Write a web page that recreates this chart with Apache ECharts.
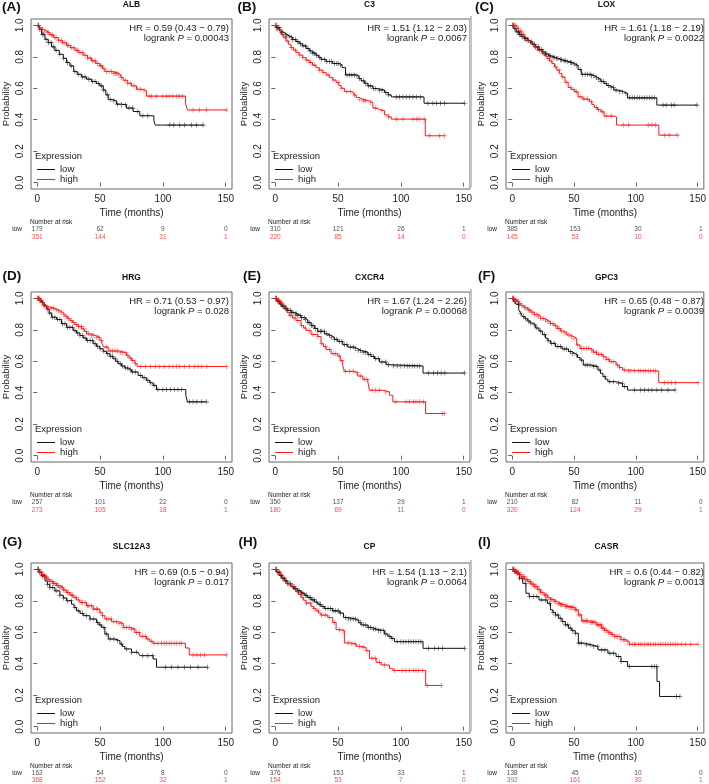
<!DOCTYPE html>
<html><head><meta charset="utf-8">
<script src="https://cdn.jsdelivr.net/npm/echarts@6/dist/echarts.min.js"></script>
<style>html,body{margin:0;padding:0;background:#fff}#c{width:709px;height:784px}</style>
</head><body><div id="c"></div>
<script>
// ---------------- DATA ----------------
const riskTimes = [0, 50, 100, 150];
const xTicks = [0, 50, 100, 150];
const yTicks = [0, 0.2, 0.4, 0.6, 0.8, 1.0];

// (A) ALB
const ALB_low = [[0,1],[1.6,0.975],[3.4,0.943],[6.1,0.911],[8.7,0.89],[11.4,0.863],[14,0.841],[17.5,0.816],[20.7,0.791],[23.3,0.763],[26,0.742],[29,0.706],[31.8,0.689],[35.3,0.672],[39.2,0.658],[43.2,0.643],[47.2,0.63],[49.8,0.615],[52.5,0.588],[54.6,0.558],[56.5,0.529],[59.9,0.52],[63,0.499],[67,0.495],[71,0.474],[76.3,0.452],[81.6,0.425],[92.8,0.393],[94,0.366],[132,0.366]];
const ALB_high = [[0,1],[1.5,0.985],[3,0.975],[4.8,0.964],[7,0.953],[10,0.939],[13,0.922],[16.7,0.905],[20,0.889],[23.3,0.873],[26.5,0.857],[30,0.841],[33,0.826],[36.6,0.81],[40,0.792],[43.2,0.774],[46.5,0.758],[49.8,0.742],[52,0.724],[53.8,0.706],[60.4,0.696],[64.4,0.685],[66.5,0.668],[68.4,0.651],[72,0.632],[75,0.615],[79,0.594],[84.3,0.584],[86.9,0.55],[118,0.505],[119.5,0.462],[150.5,0.462]];
const ALB_lowCens = [1,2,4,5,7,9,11,13,15,18,21,24,27,30,33,36,38,41,44,46,49,51,53,56,58,61,64,67,70,73,76,80,84,88,105.5,108.7,113.4,117.4,122.7,126.7,132];
const ALB_highCens = [0.5,1,2,3,4,6,8,9,11,12,14,15,17,19,20,22,24,25,27,29,31,32,34,36,38,40,42,44,46,48,50,51,53,55,57,59,61,62,63,65,67,70,72,74,77,80,82,85,89,91,95,100,103,105.5,108,111,113,115.5,124,129,134.6,150.5];
const ALB_riskLow = [179, 62, 9, 0];
const ALB_riskHigh = [351, 144, 31, 1];

// (B) C3
const C3_low = [[0,1],[1,0.985],[3.2,0.964],[5,0.953],[7.2,0.943],[9,0.932],[11.2,0.922],[14,0.909],[16.5,0.896],[19,0.883],[21.8,0.869],[24.5,0.853],[27.1,0.837],[29.8,0.823],[32.4,0.81],[34.5,0.797],[36.4,0.784],[40.4,0.77],[45.7,0.757],[51,0.748],[53.2,0.731],[55.9,0.685],[64.4,0.679],[66.5,0.662],[68.4,0.647],[71,0.632],[73.7,0.615],[77.7,0.598],[81.6,0.588],[87,0.573],[90,0.558],[92.3,0.545],[118.4,0.505],[150.8,0.505]];
const C3_high = [[0,1],[1.9,0.975],[4.5,0.943],[6.5,0.921],[8.5,0.9],[10.5,0.879],[12.5,0.858],[14.5,0.842],[16.5,0.827],[19,0.811],[21.8,0.795],[24.5,0.779],[27.1,0.763],[29.7,0.747],[32.4,0.731],[35,0.715],[37.8,0.7],[40.5,0.684],[43.1,0.668],[45.8,0.652],[48.4,0.636],[50.5,0.618],[52.4,0.6],[55,0.579],[60.4,0.573],[62.5,0.557],[64.4,0.541],[67,0.53],[69.7,0.52],[75,0.51],[77.7,0.474],[80.5,0.465],[83,0.457],[87,0.431],[90,0.418],[92.3,0.404],[119.4,0.298],[134.8,0.298]];
const C3_lowCens = [0.5,1,2,3,5,6,8,9,11,13,14,16,18,20,22,24,26,28,30,31,33,35,37,39,41,43,45,47,49,50,52,57,59,61,63,65,67,70,72,74,76,78,80,83,85,88,90,96.3,98.9,101.6,104.3,106.9,109.6,112.2,115.4,121.5,125.5,128.2,131.4,134.8,150.8];
const C3_highCens = [0.5,1,2,4,6,8,10,13,16,19,22,25,28,31,35,38,42,46,50,53,57,60,63,67,70,72,76,80,85,90,96.3,101.6,109.6,112.2,114.4,118.5,122.9,130.9,134.8];
const C3_riskLow = [310, 121, 26, 1];
const C3_riskHigh = [220, 85, 14, 0];

// (C) LOX
const LOX_low = [[0,1],[1.5,0.98],[3.2,0.958],[5.8,0.941],[7.8,0.928],[9.8,0.915],[11.8,0.905],[13.7,0.894],[16.3,0.879],[19,0.863],[21.6,0.847],[24.3,0.831],[26.9,0.818],[29.5,0.805],[32,0.797],[34.8,0.789],[37.5,0.781],[40.1,0.774],[43.5,0.768],[46.7,0.763],[48.5,0.755],[50.6,0.746],[53.3,0.719],[55.9,0.689],[63.8,0.679],[66.5,0.668],[69.1,0.658],[71.7,0.644],[74.3,0.63],[76.5,0.617],[78.3,0.605],[82.3,0.588],[86,0.578],[90.2,0.567],[93.3,0.539],[117,0.493],[149.5,0.493]];
const LOX_high = [[0,1],[3.2,0.994],[4.5,0.98],[5.8,0.964],[7.8,0.943],[9.8,0.922],[12.5,0.903],[15,0.884],[17.5,0.862],[20.3,0.841],[24.3,0.82],[26.2,0.805],[28.2,0.789],[30.2,0.773],[32.2,0.757],[34.2,0.736],[36.1,0.715],[38.1,0.694],[40.1,0.672],[42.7,0.638],[45.3,0.605],[48,0.591],[50.6,0.577],[53.3,0.545],[57.2,0.531],[62.5,0.514],[64.5,0.496],[66.4,0.478],[69,0.464],[71.7,0.45],[74.3,0.423],[82.3,0.418],[84.4,0.366],[118.6,0.302],[133.7,0.302]];
const LOX_lowCens = [0.5,1,2,3,4,5,6,7,8,10,11,12,13,15,16,18,19,21,22,24,25,27,28,30,31,33,34,36,37,39,40,42,43,45,47,48,50,52,55,57,59,61,63,64,66,68,70,72,74,76,78,80,82,84,87,89,92,95,97,99,101,103,105,107,109,111,113,115,122,124.5,129,131,149.5];
const LOX_highCens = [0.5,1,2,3,5,7,9,11,13,16,19,22,25,29,32,35,38,41,44,47,50,52,55,58,61,64,68,70,73,76,80,90,94,110,113,115.7,123,127,133.7];
const LOX_riskLow = [385, 153, 30, 1];
const LOX_riskHigh = [145, 53, 10, 0];

// (D) HRG
const HRG_low = [[0,1],[1.8,0.988],[3.4,0.975],[5.4,0.953],[7.4,0.932],[9.4,0.906],[11.4,0.88],[15.4,0.865],[19.3,0.838],[23.3,0.816],[28.6,0.795],[31.2,0.78],[33.9,0.764],[36.5,0.748],[39.2,0.732],[44.5,0.711],[47.1,0.695],[49.8,0.679],[52.5,0.664],[55.1,0.648],[57.8,0.632],[60.4,0.616],[62.4,0.6],[64.4,0.584],[67,0.57],[69.7,0.557],[72.3,0.545],[75,0.532],[80.3,0.51],[83.6,0.495],[86.9,0.479],[89.5,0.463],[92.2,0.447],[94.9,0.42],[118.2,0.384],[119.5,0.342],[134.6,0.342]];
const HRG_high = [[0,1],[2.1,0.985],[3.5,0.972],[4.8,0.958],[6.5,0.947],[8.7,0.937],[14,0.928],[16,0.92],[18,0.911],[20,0.899],[22,0.886],[24,0.872],[26,0.859],[28,0.846],[30,0.833],[32.6,0.82],[35.3,0.806],[37.3,0.79],[39.2,0.774],[42.5,0.764],[45.9,0.753],[49.8,0.732],[51.5,0.711],[53,0.69],[56.5,0.665],[65.7,0.654],[71,0.637],[73,0.621],[75,0.605],[77.7,0.584],[79.5,0.567],[150.5,0.567]];
const HRG_lowCens = [0.5,1,2,3,4,6,8,10,12,14,16,18,20,22,24,26,28,30,32,34,36,38,40,42,44,46,48,50,53,56,58,60,62,64,66,68,70,72,74,76,78,82,85,88,90,93,96,100,103,106,109,112,115,121,124,127,131,134.6];
const HRG_highCens = [0.5,1,2,3,4,5,7,9,11,13,15,17,19,21,23,25,27,29,31,33,35,37,39,41,43,45,47,49,51,55,58,60,62,64,66,68,70,72,74,76,78,82,86,90,94,97,101,105,108,111,113,117,121,125,128,131,135,150.5];
const HRG_riskLow = [257, 101, 22, 0];
const HRG_riskHigh = [273, 105, 18, 1];

// (E) CXCR4
const CXCR4_low = [[0,1],[1.5,0.982],[3.2,0.964],[5.2,0.95],[7.2,0.937],[9.8,0.924],[12.5,0.911],[15.1,0.9],[17.8,0.89],[20.4,0.877],[23.1,0.865],[25.8,0.846],[28.5,0.827],[31.1,0.809],[33.8,0.791],[39.1,0.774],[41.8,0.763],[44.4,0.753],[47,0.74],[49.7,0.726],[53.7,0.705],[57.7,0.69],[63,0.679],[65.7,0.668],[68.4,0.658],[73.7,0.643],[76.3,0.63],[79,0.616],[83,0.595],[88.3,0.578],[92.3,0.57],[117.6,0.525],[150.8,0.525]];
const CXCR4_high = [[0,1],[1.5,0.988],[3.2,0.975],[5.2,0.953],[7.2,0.932],[9.2,0.911],[11.2,0.89],[13.8,0.875],[16.5,0.859],[20.5,0.827],[22.5,0.811],[24.5,0.795],[28.5,0.77],[33.8,0.757],[36.4,0.711],[38.4,0.693],[40.4,0.675],[44.4,0.648],[49.7,0.633],[51.7,0.604],[53.7,0.574],[55,0.536],[63,0.527],[65.7,0.506],[69.7,0.485],[73.7,0.468],[75,0.416],[85.6,0.405],[91,0.384],[93.6,0.342],[119.7,0.268],[134.8,0.268]];
const CXCR4_lowCens = [0.5,1,2,3,4,5,6,7,8,9,10,12,13,14,16,17,18,20,21,23,24,26,27,29,30,32,34,36,37,39,41,43,45,47,49,51,53,55,57,60,62,64,66,68,70,72,74,76,78,80,82,85,88,90,94,97,100,103,105,107,109,111,113,115,122,126,129,132,135,150.8];
const CXCR4_highCens = [0.5,1,2,3,4,5,7,9,12,15,18,21,24,27,30,34,37,40,43,46,48,51,53,56,59,62,65,68,71,73,77,80,83,88,96,104,107,110,112,115,118,133,134.8];
const CXCR4_riskLow = [350, 137, 29, 1];
const CXCR4_riskHigh = [180, 69, 11, 0];

// (F) GPC3
const GPC3_low = [[0,1],[1.6,0.981],[3.2,0.962],[5.3,0.926],[6.9,0.905],[8.5,0.883],[10.5,0.87],[12.5,0.856],[14.5,0.843],[16.4,0.831],[19,0.811],[21.7,0.792],[24.4,0.769],[27,0.746],[29,0.73],[31,0.714],[35,0.693],[40.3,0.678],[45.6,0.661],[48.2,0.65],[50.9,0.64],[52.9,0.624],[54.9,0.608],[57.5,0.576],[64.1,0.566],[69.4,0.544],[71.4,0.523],[73.4,0.502],[75.4,0.486],[77.4,0.47],[84,0.46],[89.3,0.439],[93.3,0.417],[131.7,0.417]];
const GPC3_high = [[0,1],[1.5,0.99],[3.2,0.979],[5.2,0.966],[7.2,0.953],[9.8,0.94],[12.5,0.926],[15.1,0.912],[17.8,0.898],[20.4,0.886],[23,0.873],[25.7,0.862],[28.4,0.852],[31,0.839],[33.7,0.826],[36.4,0.809],[39,0.792],[41.7,0.78],[44.3,0.767],[47,0.757],[49.6,0.746],[52.2,0.703],[54.9,0.682],[62.8,0.672],[65.5,0.658],[68.1,0.644],[73.4,0.629],[76,0.613],[78.7,0.597],[84,0.576],[86.7,0.56],[89.3,0.544],[93.3,0.538],[118.5,0.464],[150.3,0.464]];
const GPC3_lowCens = [0.5,1,2,3,5,7,9,11,13,15,18,20,23,26,29,32,34,37,39,42,44,47,49,52,56,59,61,63,66,68,71,75,79,82,86,89,91,99,104,107,110,113,117,121,126,131.7];
const GPC3_highCens = [0.5,1,2,3,4,5,6,8,10,11,13,14,16,18,20,21,23,25,27,29,31,33,35,37,38,40,42,44,46,48,50,53,56,58,60,62,64,66,68,70,72,74,76,78,80,82,85,87,91,94,96,99,102,104,106,108,110,112,114,116,123,126,129,132,150.3];
const GPC3_riskLow = [210, 82, 11, 0];
const GPC3_riskHigh = [320, 124, 29, 1];

// (G) SLC12A3
const SLC12A3_low = [[0,1],[1.7,0.979],[3.4,0.958],[6.1,0.926],[8,0.905],[10,0.884],[14,0.863],[18,0.835],[20.7,0.818],[23.3,0.8],[27.3,0.778],[29.3,0.757],[31.3,0.736],[34,0.72],[36.6,0.705],[41.9,0.684],[47.2,0.662],[49.2,0.647],[51.2,0.631],[53.8,0.589],[56.5,0.557],[61.8,0.546],[65.8,0.525],[67.8,0.51],[69.7,0.494],[75,0.473],[80.3,0.468],[81.6,0.451],[92.2,0.43],[94.9,0.378],[135.5,0.378]];
const SLC12A3_high = [[0,1],[1.7,0.984],[3.4,0.968],[5.4,0.952],[7.4,0.937],[10,0.923],[12.7,0.909],[15.3,0.896],[18,0.884],[20.6,0.868],[23.3,0.852],[26,0.836],[28.6,0.821],[31.3,0.805],[33.9,0.789],[39.2,0.768],[44.5,0.747],[49.8,0.726],[51.8,0.705],[53.8,0.684],[59.1,0.667],[64.4,0.656],[68.4,0.631],[73.7,0.62],[77.7,0.599],[81.6,0.574],[86.9,0.557],[89.5,0.543],[92.2,0.53],[118,0.5],[121,0.456],[150.5,0.456]];
const SLC12A3_lowCens = [0.5,1,2,4,6,8,10,12,15,18,21,24,27,30,33,36,39,42,45,48,50,53,55,58,61,64,67,71,75,79,84,88,92,102,107,112,117,122,128,135.5];
const SLC12A3_highCens = [0.5,1,2,3,4,5,6,7,8,9,10,11,12,13,14,15,16,17,18,19,20,21,22,24,25,27,28,30,31,33,35,36,38,40,41,43,45,47,48,50,52,55,57,59,61,63,65,67,69,71,73,75,77,79,81,84,86,88,91,93,96,99,101,103,105,107,109,111,113,115,124,127,130,133,150.5];
const SLC12A3_riskLow = [162, 54, 8, 0];
const SLC12A3_riskHigh = [368, 152, 32, 1];

// (H) CP
const CP_low = [[0,1],[1.5,0.981],[3.2,0.962],[5.2,0.944],[7.2,0.926],[9.8,0.908],[12.5,0.89],[15.1,0.877],[17.8,0.863],[20.4,0.849],[23.1,0.835],[25.8,0.82],[28.5,0.806],[31.1,0.792],[33.8,0.778],[36.4,0.764],[39.1,0.751],[45.7,0.736],[51,0.722],[54.3,0.694],[57.7,0.684],[64.4,0.673],[66.4,0.66],[68.4,0.646],[73.7,0.631],[77,0.62],[80.3,0.61],[87,0.589],[89.6,0.575],[92.3,0.561],[94.9,0.54],[117.6,0.498],[150.8,0.498]];
const CP_high = [[0,1],[1.5,0.985],[3.2,0.968],[5.2,0.947],[7.2,0.926],[9.8,0.908],[12.5,0.89],[14.5,0.873],[16.5,0.857],[18.5,0.839],[20.5,0.821],[22.5,0.803],[24.5,0.785],[28.5,0.764],[30.5,0.75],[32.4,0.736],[34.4,0.722],[36.4,0.709],[41.8,0.694],[45.7,0.662],[48.4,0.616],[52.4,0.61],[55,0.532],[60.4,0.525],[64.4,0.511],[68.4,0.504],[72.3,0.483],[75,0.435],[80.3,0.409],[84.3,0.392],[90.9,0.371],[93.6,0.357],[119.7,0.262],[132.2,0.262]];
const CP_lowCens = [0.5,1,2,3,4,5,6,7,8,9,10,11,12,14,15,16,18,19,21,22,24,25,27,28,30,31,33,35,36,38,40,42,44,46,48,50,52,56,58,60,62,64,66,68,70,72,74,76,78,80,82,84,86,88,91,93,97,100,102,104,106,108,110,112,114,116,122,127,130,133,150.8];
const CP_highCens = [0.5,1,2,3,4,6,8,10,12,14,16,18,20,22,25,28,31,34,37,40,43,47,51,54,58,61,64,67,70,73,77,80,83,87,95,101,104,107,110,112,114,117,121,132.2];
const CP_riskLow = [376, 153, 33, 1];
const CP_riskHigh = [154, 53, 7, 0];

// (I) CASR
const CASR_low = [[0,1],[1.6,0.988],[3.2,0.975],[5.8,0.943],[8.5,0.911],[11.1,0.848],[13.8,0.827],[21.7,0.805],[28.4,0.784],[31,0.742],[33,0.726],[35,0.71],[37.6,0.689],[40.3,0.668],[43,0.647],[45.6,0.626],[48.2,0.61],[50.9,0.594],[53.5,0.531],[58.8,0.52],[64.1,0.51],[69.4,0.488],[77.4,0.467],[84,0.446],[88,0.414],[93.3,0.383],[117.1,0.288],[119.2,0.192],[135.7,0.192]];
const CASR_high = [[0,1],[1.6,0.99],[3.2,0.981],[5.2,0.967],[7.2,0.953],[9.8,0.937],[12.5,0.922],[15.1,0.906],[17.8,0.89],[20.4,0.872],[23,0.854],[25.7,0.837],[28.4,0.82],[31,0.807],[33.7,0.795],[36.4,0.784],[39,0.774],[42.3,0.765],[45.6,0.757],[50.9,0.742],[53.5,0.71],[56.2,0.672],[62.8,0.664],[68.1,0.647],[72.1,0.626],[74.8,0.613],[77.4,0.6],[80,0.586],[82.7,0.573],[88,0.552],[92,0.541],[94.6,0.524],[150.3,0.524]];
const CASR_lowCens = [0.5,1,2,3,4,6,8,11,14,17,20,24,27,30,33,35,37,39,41,43,45,47,49,51,54,56,60,63,66,69,72,75,79,82,86,88,95,113,115,117,133,135.7];
const CASR_highCens = [0.5,1,1.5,2,3,4,4.5,5,6,7,8,9,9.5,10,11,12,13,14,15,16,17,18,19,20,21,22,23,24,26,27,28,29,31,32,33,34,35,37,38,39,40,41,43,44,45,46,47,48,49,50,51,52,54,55,57,58,59,60,61,63,64,65,66,67,69,70,71,72,73,74,75,76,78,79,80,81,83,84,85,87,88,90,91,93,95,97,99,100,102,104,105,107,109,110,112,114,116,118,120,122,124,126,128,130,132,134,137,140,144,150.3];
const CASR_riskLow = [138, 45, 10, 0];
const CASR_riskHigh = [392, 161, 30, 1];

const panels = [
  {letter:'(A)', gene:'ALB',     hr:'HR = 0.59 (0.43 − 0.79)', p:'0.00043', low:ALB_low, high:ALB_high, lowC:ALB_lowCens, highC:ALB_highCens, rl:ALB_riskLow, rh:ALB_riskHigh},
  {letter:'(B)', gene:'C3',      hr:'HR = 1.51 (1.12 − 2.03)', p:'0.0067',  low:C3_low, high:C3_high, lowC:C3_lowCens, highC:C3_highCens, rl:C3_riskLow, rh:C3_riskHigh},
  {letter:'(C)', gene:'LOX',     hr:'HR = 1.61 (1.18 − 2.19)', p:'0.0022',  low:LOX_low, high:LOX_high, lowC:LOX_lowCens, highC:LOX_highCens, rl:LOX_riskLow, rh:LOX_riskHigh},
  {letter:'(D)', gene:'HRG',     hr:'HR = 0.71 (0.53 − 0.97)', p:'0.028',   low:HRG_low, high:HRG_high, lowC:HRG_lowCens, highC:HRG_highCens, rl:HRG_riskLow, rh:HRG_riskHigh},
  {letter:'(E)', gene:'CXCR4',   hr:'HR = 1.67 (1.24 − 2.26)', p:'0.00068', low:CXCR4_low, high:CXCR4_high, lowC:CXCR4_lowCens, highC:CXCR4_highCens, rl:CXCR4_riskLow, rh:CXCR4_riskHigh},
  {letter:'(F)', gene:'GPC3',    hr:'HR = 0.65 (0.48 − 0.87)', p:'0.0039',  low:GPC3_low, high:GPC3_high, lowC:GPC3_lowCens, highC:GPC3_highCens, rl:GPC3_riskLow, rh:GPC3_riskHigh},
  {letter:'(G)', gene:'SLC12A3', hr:'HR = 0.69 (0.5 − 0.94)',  p:'0.017',   low:SLC12A3_low, high:SLC12A3_high, lowC:SLC12A3_lowCens, highC:SLC12A3_highCens, rl:SLC12A3_riskLow, rh:SLC12A3_riskHigh},
  {letter:'(H)', gene:'CP',      hr:'HR = 1.54 (1.13 − 2.1)',  p:'0.0064',  low:CP_low, high:CP_high, lowC:CP_lowCens, highC:CP_highCens, rl:CP_riskLow, rh:CP_riskHigh},
  {letter:'(I)', gene:'CASR',    hr:'HR = 0.6 (0.44 − 0.82)',  p:'0.0013',  low:CASR_low, high:CASR_high, lowC:CASR_lowCens, highC:CASR_highCens, rl:CASR_riskLow, rh:CASR_riskHigh}
];

// ---------------- LAYOUT / STYLE ----------------
const FONT = 'Liberation Sans, Arial, Helvetica, sans-serif';
const RED = '#ff1a1a', BLACK = '#111', TXT = '#222', BOX = '#666';
const colLeft = [31, 269, 506], rowTop = [19, 292, 563], W = 201, H = 170;
const letterX = [2, 237.5, 475, 2.5, 243, 478, 2.5, 238.5, 478];
const letterY = [7, 276, 542];
const titleY = [5, 278, 547];
const PLUS = 'path://M0,4.4H10V5.6H0Z M4.4,0H5.6V10H4.4Z';

function stepAt(curve, t) {
  let s = curve[0][1];
  for (const pt of curve) { if (pt[0] <= t) s = pt[1]; else break; }
  return s;
}

const grid = [], xAxis = [], yAxis = [], series = [], legend = [], graphic = [];
panels.forEach((p, i) => {
  const r = Math.floor(i / 3), c = i % 3, L = colLeft[c], T = rowTop[r];
  const gi = grid.length;
  grid.push({left: L, top: T, width: W, height: H, show: true, borderColor: BOX, borderWidth: 1, backgroundColor: 'transparent'});
  xAxis.push({gridIndex: gi, type: 'value', min: -5, max: 155,
    name: 'Time (months)', nameLocation: 'middle', nameGap: 19,
    nameTextStyle: {fontSize: 10, color: TXT, fontFamily: FONT},
    axisLine: {show: false}, splitLine: {show: false},
    axisTick: {show: true, length: 4, lineStyle: {color: BOX}, customValues: xTicks},
    axisLabel: {customValues: xTicks, margin: 5, fontSize: 10, color: TXT, fontFamily: FONT}});
  yAxis.push({gridIndex: gi, type: 'value', min: -0.04, max: 1.04,
    name: 'Probability', nameLocation: 'middle', nameGap: 20,
    nameTextStyle: {fontSize: 9.5, color: TXT, fontFamily: FONT},
    axisLine: {show: false}, splitLine: {show: false},
    axisTick: {show: true, length: 4, lineStyle: {color: BOX}, customValues: yTicks},
    axisLabel: {customValues: yTicks, rotate: 90, margin: 6, fontSize: 10, color: TXT, fontFamily: FONT, formatter: v => Number(v).toFixed(1)}});

  series.push({type: 'line', name: 'low', xAxisIndex: gi, yAxisIndex: gi, data: p.low, step: 'end', symbol: 'none', silent: true,
    lineStyle: {color: BLACK, width: 1}, itemStyle: {color: BLACK}, z: 3});
  series.push({type: 'line', name: 'high', xAxisIndex: gi, yAxisIndex: gi, data: p.high, step: 'end', symbol: 'none', silent: true,
    lineStyle: {color: RED, width: 1}, itemStyle: {color: RED}, z: 3});
  series.push({type: 'scatter', name: 'lowCens', xAxisIndex: gi, yAxisIndex: gi, silent: true, symbol: PLUS, symbolSize: 5,
    data: p.lowC.map(t => [t, stepAt(p.low, t)]), itemStyle: {color: BLACK}, z: 4});
  series.push({type: 'scatter', name: 'highCens', xAxisIndex: gi, yAxisIndex: gi, silent: true, symbol: PLUS, symbolSize: 5,
    data: p.highC.map(t => [t, stepAt(p.high, t)]), itemStyle: {color: RED}, z: 4});

  // risk table grid
  const ri = grid.length;
  grid.push({left: L, top: T + H + 36, width: W, height: 16});
  xAxis.push({gridIndex: ri, type: 'value', min: -5, max: 155, show: false});
  yAxis.push({gridIndex: ri, type: 'category', data: ['low', 'high'], inverse: true,
    axisLine: {show: false}, axisTick: {show: false}, splitLine: {show: false},
    axisLabel: {margin: 9, fontSize: 6.5, fontFamily: FONT, color: v => v === 'high' ? RED : TXT}});
  series.push({type: 'scatter', name: 'riskLow', xAxisIndex: ri, yAxisIndex: ri, silent: true, symbolSize: 1,
    itemStyle: {color: 'transparent'}, data: riskTimes.map((t, k) => [t, 'low', p.rl[k]]),
    label: {show: true, position: 'inside', formatter: q => String(q.value[2]), fontSize: 6.5, color: TXT, fontFamily: FONT}});
  series.push({type: 'scatter', name: 'riskHigh', xAxisIndex: ri, yAxisIndex: ri, silent: true, symbolSize: 1,
    itemStyle: {color: 'transparent'}, data: riskTimes.map((t, k) => [t, 'high', p.rh[k]]),
    label: {show: true, position: 'inside', formatter: q => String(q.value[2]), fontSize: 6.5, color: RED, fontFamily: FONT}});

  legend.push({left: L + 6, top: T + 145.5, orient: 'vertical', padding: 0, icon: 'rect', itemWidth: 18, itemHeight: 1, itemGap: 0,
    selectedMode: false, data: ['low', 'high'], textStyle: {fontSize: 9.5, lineHeight: 10, color: TXT, fontFamily: FONT}});

  graphic.push({type: 'text', x: letterX[i], y: letterY[r], silent: true,
    style: {text: p.letter, fontSize: 13.5, fontWeight: 'bold', fill: BLACK, fontFamily: FONT, verticalAlign: 'middle'}});
  graphic.push({type: 'text', x: L + W / 2, y: titleY[r], silent: true,
    style: {text: p.gene, fontSize: 8.5, fontWeight: 'bold', fill: BLACK, fontFamily: FONT, align: 'center', verticalAlign: 'middle'}});
  graphic.push({type: 'text', x: L + W - 3, y: T + 9, silent: true,
    style: {text: p.hr, fontSize: 9.5, fill: TXT, fontFamily: FONT, align: 'right', verticalAlign: 'middle'}});
  graphic.push({type: 'text', x: L + W - 3, y: T + 19.5, silent: true,
    style: {text: '{a|logrank }{b|P}{a| = ' + p.p + '}', fontSize: 9.5, fill: TXT, fontFamily: FONT, align: 'right', verticalAlign: 'middle',
      rich: {a: {fontSize: 9.5, fontFamily: FONT, fill: TXT}, b: {fontSize: 9.5, fontFamily: FONT, fontStyle: 'italic', fill: TXT}}}});
  graphic.push({type: 'text', x: L + 4, y: T + 137.5, silent: true,
    style: {text: 'Expression', fontSize: 9.5, fill: TXT, fontFamily: FONT, verticalAlign: 'middle'}});
  graphic.push({type: 'text', x: L - 1, y: T + H + 33.5, silent: true,
    style: {text: 'Number at risk', fontSize: 6.5, fill: TXT, fontFamily: FONT, verticalAlign: 'middle'}});
  if (c === 2) {
    graphic.push({type: 'rect', silent: true, shape: {x: 470, y: T - 3, width: 2, height: H + 1}, style: {fill: '#c4c4c4'}});
  }
});

const chart = echarts.init(document.getElementById('c'), null, {renderer: 'canvas'});
chart.setOption({animation: false, backgroundColor: '#fff', grid, xAxis, yAxis, series, legend, graphic});
</script></body></html>
